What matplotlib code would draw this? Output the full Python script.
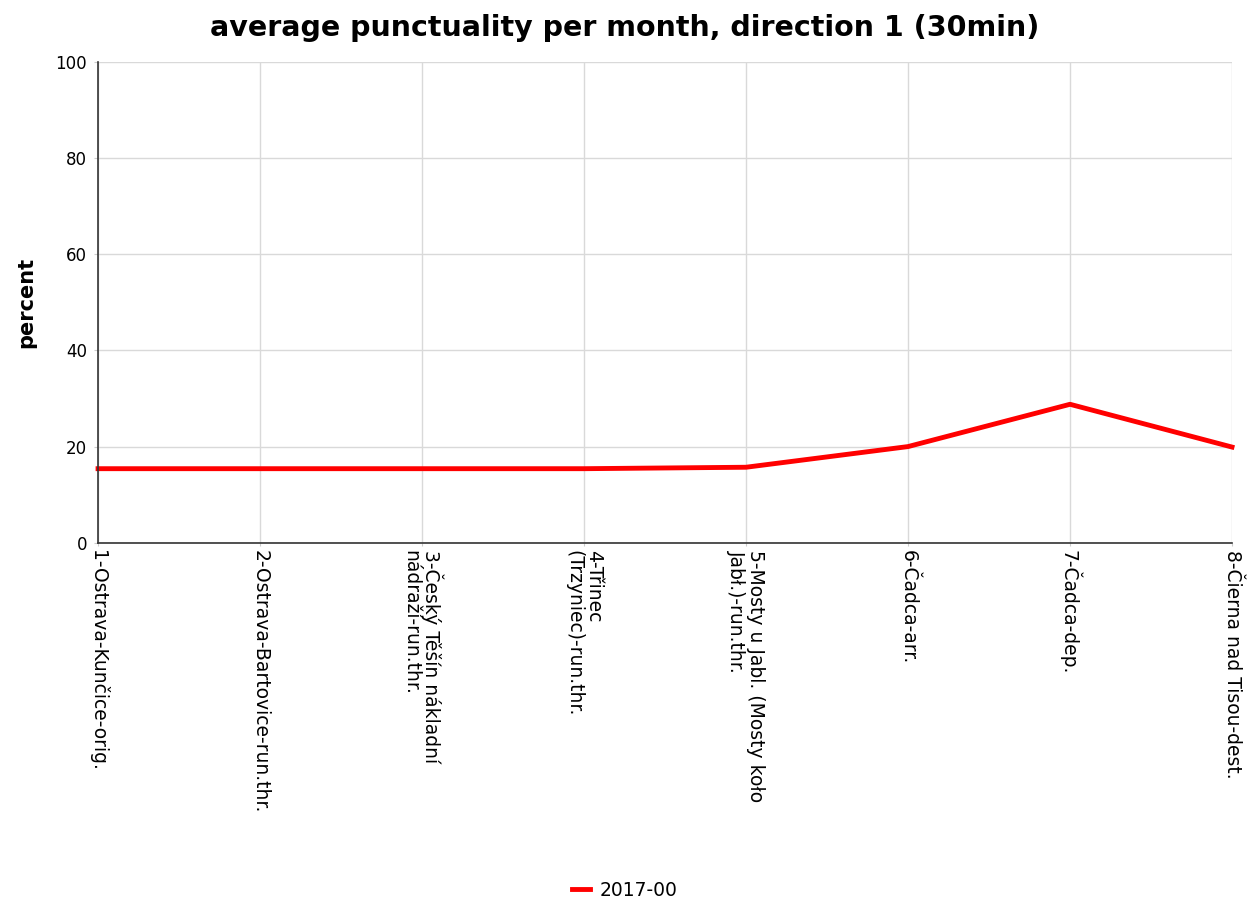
import numpy as np
import matplotlib.pyplot as plt
from matplotlib import rcParams

rcParams["font.family"] = ["DejaVu Sans"]

stations = [
    "1-Ostrava-Kunčice-orig.",
    "2-Ostrava-Bartovice-run.thr.",
    "3-Český Těšín nákladní\nnádraží-run.thr.",
    "4-Třinec\n(Trzyniec)-run.thr.",
    "5-Mosty u Jabl. (Mosty koło\nJabł.)-run.thr.",
    "6-Čadca-arr.",
    "7-Čadca-dep.",
    "8-Čierna nad Tisou-dest.",
]
punctuality = [15.4, 15.4, 15.4, 15.4, 15.7, 20.0, 28.8, 19.9]
series_name = "2017-00"

fig = plt.figure(figsize=(12.49, 9), dpi=100)
ax = fig.add_axes([0.0785, 0.397, 0.9079, 0.534])

x = np.arange(len(stations))
ax.plot(x, punctuality, color="#ff0000", lw=3.5, label=series_name,
        solid_joinstyle="round", clip_on=False)

ax.set_xlim(0, len(stations) - 1)
ax.set_ylim(0, 100)
ax.set_yticks([0, 20, 40, 60, 80, 100])
ax.set_xticks(x)
ax.set_xticklabels(stations, rotation=270, ha="center", va="top",
                   multialignment="left", fontsize=13.5, linespacing=1.05)
ax.tick_params(axis="y", labelsize=12, length=3, color="#cccccc", pad=5)
ax.tick_params(axis="x", length=2, color="#cccccc", pad=3)

ax.grid(True, color="#d9d9d9", lw=1)
ax.set_axisbelow(True)
for side in ["top", "right"]:
    ax.spines[side].set_visible(False)
for side in ["left", "bottom"]:
    ax.spines[side].set_color("#333333")
    ax.spines[side].set_linewidth(1.2)

ax.set_ylabel("percent", fontsize=15, fontweight="bold", labelpad=14)
fig.suptitle("average punctuality per month, direction 1 (30min)",
             fontsize=20.5, fontweight="bold", y=0.985)

fig.legend(loc="center", bbox_to_anchor=(0.5, 0.011), frameon=False,
           fontsize=13.5, handlelength=1.0, handletextpad=0.5)

fig.savefig("out.png", dpi=100)
